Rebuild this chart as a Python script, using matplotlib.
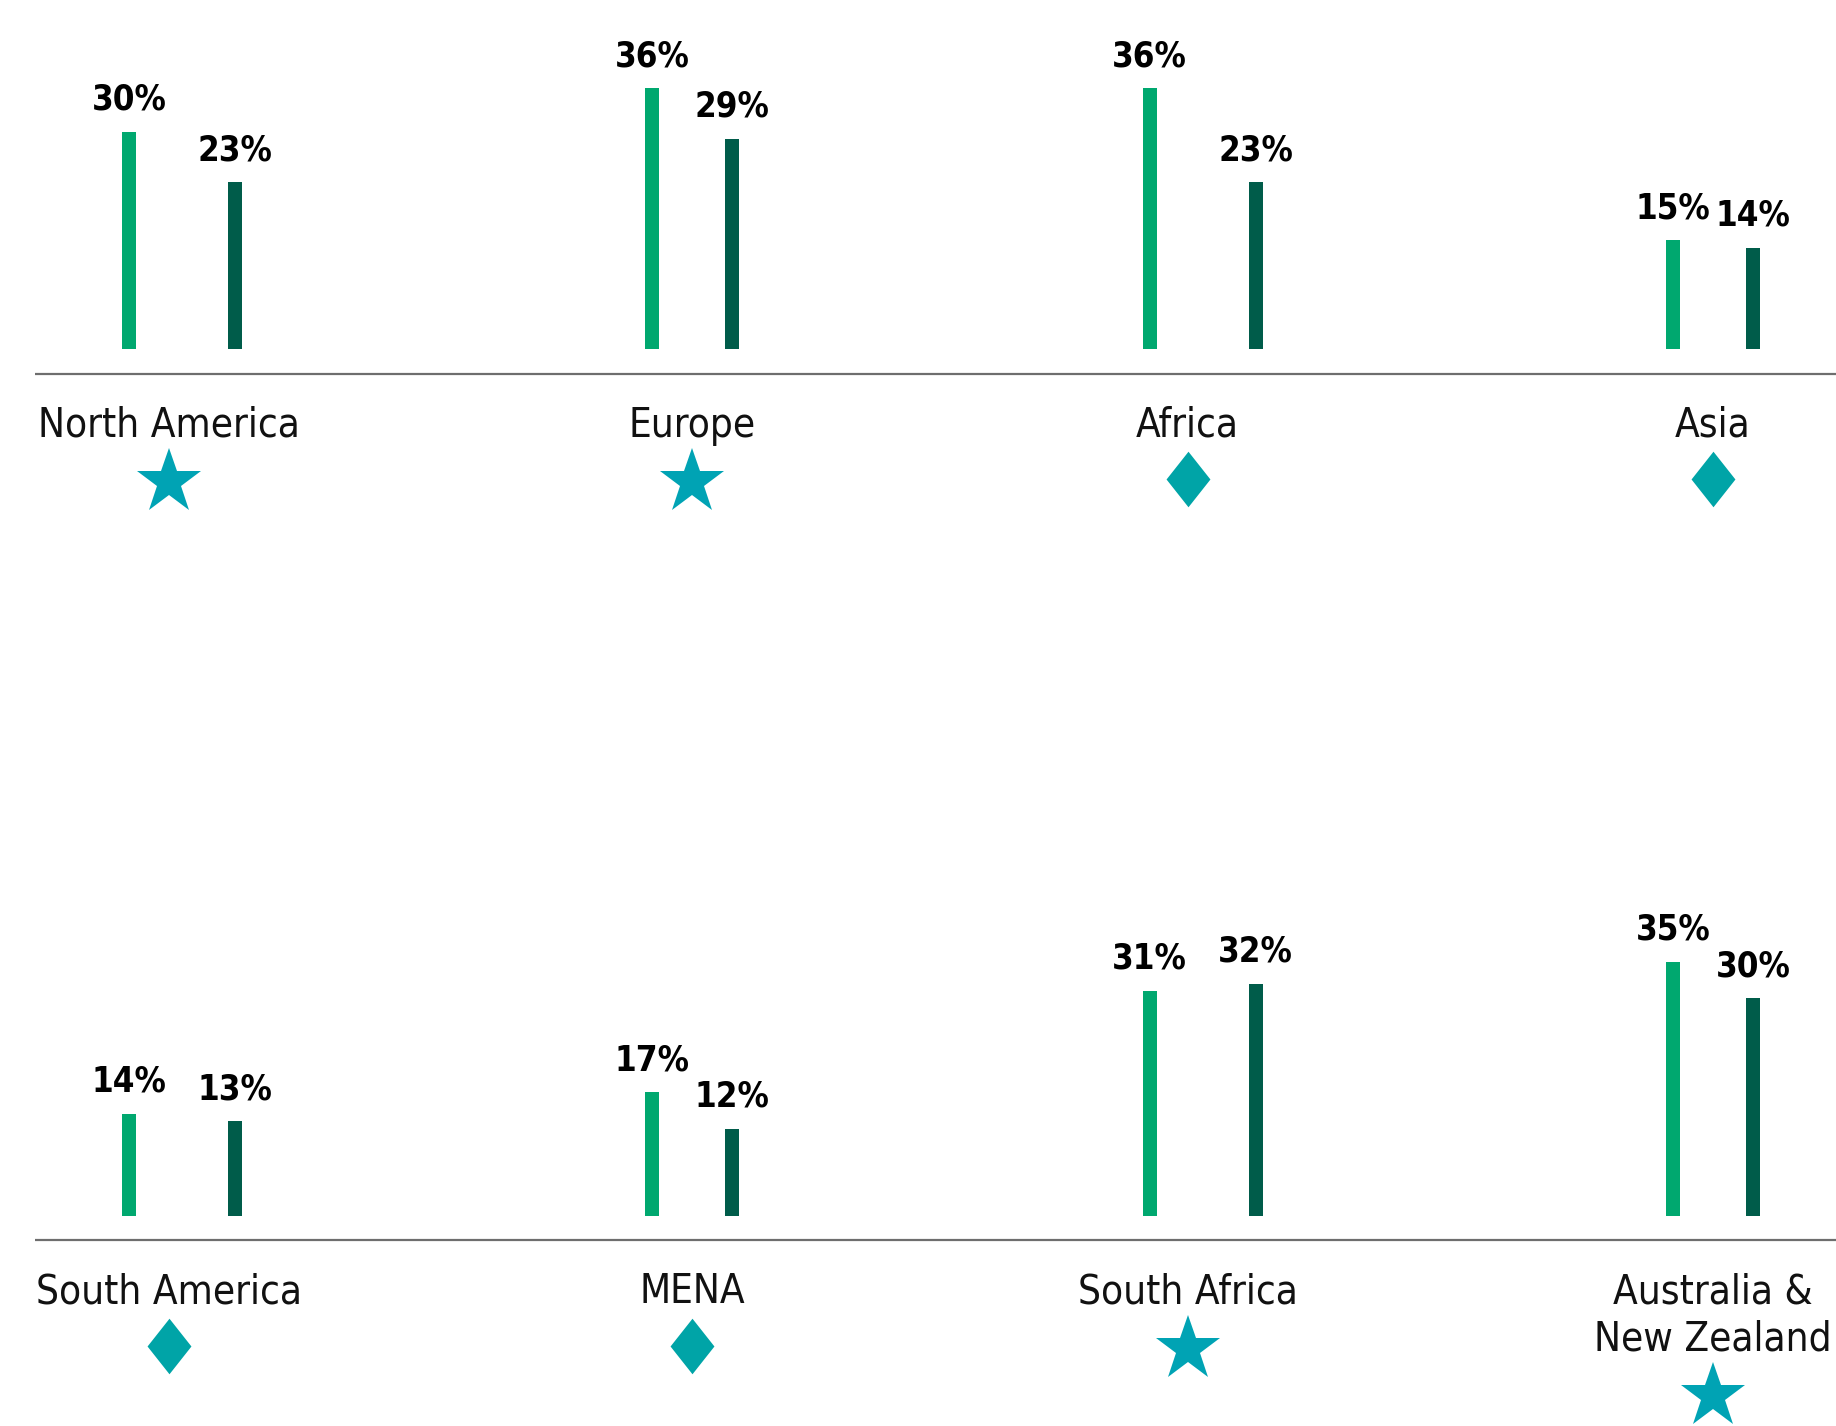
import matplotlib
matplotlib.use("Agg")
import matplotlib.pyplot as plt
from matplotlib import font_manager
from matplotlib.font_manager import FontProperties

# ---- data ----
regions_top = ["North America", "Europe", "Africa", "Asia"]
regions_bottom = ["South America", "MENA", "South Africa", "Australia &\nNew Zealand"]
series_a_top = [30, 36, 36, 15]
series_b_top = [23, 29, 23, 14]
series_a_bottom = [14, 17, 31, 35]
series_b_bottom = [13, 12, 32, 30]
symbols_top = ["star", "star", "diamond", "diamond"]
symbols_bottom = ["diamond", "diamond", "star", "star"]

# ---- style ----
light_green = "#00A86F"
dark_green = "#005C4A"
star_color = "#00A3B4"
diamond_color = "#00A4A7"
axis_grey = "#6E6E6E"


def find_font(cond, want_bold):
    for f in font_manager.fontManager.ttflist:
        w = f.weight if isinstance(f.weight, int) else (700 if "bold" in str(f.weight) else 400)
        if cond(f) and ((w >= 600) == want_bold) and f.style == "normal":
            return FontProperties(fname=f.fname)
    return None


def is_cond(f):
    return ("condensed" in str(f.stretch) or "Narrow" in f.name or "Condensed" in f.name)


label_fp = find_font(is_cond, False)
value_fp = find_font(is_cond, True)
found_condensed = label_fp is not None and value_fp is not None
if not found_condensed:
    label_fp = FontProperties(family="Roboto", weight="light")
    value_fp = FontProperties(family="Roboto", weight="bold")
label_fp.set_size(29 if found_condensed else 28)
value_fp.set_size(25 if found_condensed else 24)

W, H = 1836, 1426
fig = plt.figure(figsize=(W / 100, H / 100), dpi=100)

# layout in pixels
px_per_unit = 510.3           # horizontal pixels between group centres
px_per_pct = 7.24             # vertical pixels per percentage point
first_centre = 182            # px of first group centre
ax_px = 560                   # height of each row's axes
zero_from_top = 349           # px from top of row axes to bar bottoms
ymax = zero_from_top / px_per_pct
ymin = -(ax_px - zero_from_top) / px_per_pct
base_y = -24.5 / px_per_pct
label_y = -87.8 / px_per_pct
marker_y = -130 / px_per_pct
line_step = 47.2 / px_per_pct
half_gap = [53, 40, 53, 40]   # px from pair centre to each bar
label_shift = [-13, 0, -15, 0]
bar_w = 14 / px_per_unit

diamond = [(0, 1), (0.79, 0), (0, -1), (-0.79, 0), (0, 1)]


def draw_row(ax, labels, va_, vb_, syms):
    ax.set_xlim(-first_centre / px_per_unit, (W - first_centre) / px_per_unit)
    ax.set_ylim(ymin, ymax)
    ax.axis("off")
    for i, (lab, a, b, s) in enumerate(zip(labels, va_, vb_, syms)):
        xa = i - half_gap[i] / px_per_unit
        xb = i + half_gap[i] / px_per_unit
        ax.bar(xa, a, width=bar_w, color=light_green)
        ax.bar(xb, b, width=bar_w, color=dark_green)
        for x, v in ((xa, a), (xb, b)):
            ax.annotate(f"{v}%", (x, v), xytext=(0, 16), textcoords="offset points",
                        ha="center", va="baseline", fontproperties=value_fp,
                        color="black")
        xl = i + label_shift[i] / px_per_unit
        lines = lab.split("\n")
        for k, line in enumerate(lines):
            ax.text(xl, label_y - k * line_step, line, ha="center", va="baseline",
                    fontproperties=label_fp, color="#111111")
        my = marker_y - (len(lines) - 1) * line_step
        if s == "star":
            ax.plot(xl, my - 3 / px_per_pct, marker="*", ms=49, color=star_color,
                    markeredgewidth=0, clip_on=False)
        else:
            ax.plot(xl, my, marker=diamond, ms=40, color=diamond_color,
                    markeredgewidth=0, clip_on=False)
    ax.hlines(base_y, (35 - first_centre) / px_per_unit, ax.get_xlim()[1],
              color=axis_grey, lw=1.6)


ax_top = fig.add_axes([0, 1 - ax_px / H, 1, ax_px / H])
ax_bot = fig.add_axes([0, (H - 1215.5 - (ax_px - zero_from_top)) / H, 1, ax_px / H])

draw_row(ax_top, regions_top, series_a_top, series_b_top, symbols_top)
draw_row(ax_bot, regions_bottom, series_a_bottom, series_b_bottom, symbols_bottom)

fig.savefig("out.png", dpi=100, facecolor="white")
